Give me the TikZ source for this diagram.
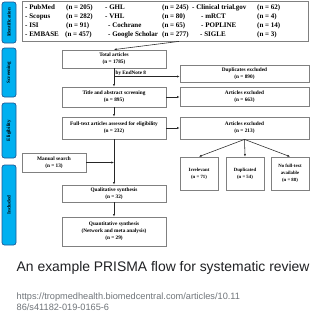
\documentclass[tikz,border=0pt]{standalone}
\usepackage{fontspec}
\setmainfont{Liberation Serif}
\newfontfamily\capfont{Liberation Sans}
\usetikzlibrary{arrows.meta}
\definecolor{boxgray}{RGB}{128,128,128}
\definecolor{sideblue}{RGB}{0,176,240}
\definecolor{sideedge}{RGB}{30,90,150}
\definecolor{capcol}{RGB}{32,33,36}
\definecolor{urlcol}{RGB}{112,117,122}
\begin{document}
\begin{tikzpicture}[x=1pt,y=-1pt,
  bx/.style={draw=boxgray, line width=0.8pt, fill=white, align=center, inner sep=0pt,
    font=\bfseries\fontsize{5.3}{7}\selectfont},
  sbx/.style={bx, font=\bfseries\fontsize{4.8}{7}\selectfont},
  side/.style={draw=sideedge, fill=sideblue, rounded corners=2.5pt, line width=0.7pt,
    rotate=90, inner sep=0pt, minimum height=14pt, font=\bfseries\fontsize{5}{5.5}\selectfont},
  arr/.style={draw=black!85, line width=0.55pt, -{Latex[length=2.6pt,width=2.2pt]}},
  db/.style={anchor=west, inner sep=0pt, font=\bfseries\fontsize{7}{8}\selectfont}]
\useasboundingbox (0,0) rectangle (322,316);
\fill[white] (0,0) rectangle (322,316);

% sidebar
\node[side, minimum width=41pt] (sid) at (9,22.5) {Identification};
\node[side, minimum width=49pt] (sscr) at (9,72.5) {Screening};
\node[side, minimum width=55pt] (selig) at (9,130.5) {Eligibility};
\node[side, minimum width=80pt] (sinc) at (9,205) {Included};

% database box
\node[bx, minimum width=286pt, minimum height=40pt] (top) at (165,21) {};
\node[db] (d11) at (25,7.5) {- PubMed};
\node[db] (d12) at (66,7.5) {(n = 205)};
\node[db] (d13) at (105,7.5) {- GHL};
\node[db] (d14) at (162,7.5) {(n = 245)};
\node[db] (d15) at (192,7.5) {- Clinical trial.gov};
\node[db] (d16) at (257,7.5) {(n = 62)};
\node[db] (d21) at (25,16.5) {- Scopus};
\node[db] (d22) at (66,16.5) {(n = 282)};
\node[db] (d23) at (105,16.5) {- VHL};
\node[db] (d24) at (162,16.5) {(n = 80)};
\node[db] (d25) at (201,16.5) {- mRCT};
\node[db] (d26) at (257,16.5) {(n = 4)};
\node[db] (d31) at (25,25.5) {- ISI};
\node[db] (d32) at (66,25.5) {(n = 91)};
\node[db] (d33) at (108,25.5) {- Cochrane};
\node[db] (d34) at (162,25.5) {(n = 65)};
\node[db] (d35) at (201,25.5) {- POPLINE};
\node[db] (d36) at (257,25.5) {(n = 14)};
\node[db] (d41) at (25,34.5) {- EMBASE};
\node[db] (d42) at (65,34.5) {(n = 457)};
\node[db] (d43) at (108,34.5) {- Google Scholar};
\node[db] (d44) at (162,34.5) {(n = 277)};
\node[db] (d45) at (200,34.5) {- SIGLE};
\node[db] (d46) at (257,34.5) {(n = 3)};

% main column
\node[bx, minimum width=104pt, minimum height=18pt] (total) at (114,59) {Total articles\\(n = 1785)};
\node[bx, minimum width=104pt, minimum height=20pt] (title) at (114,97) {Title and abstract screening\\(n = 895)};
\node[bx, minimum width=104pt, minimum height=22pt] (full) at (114,128) {Full-text articles assessed for eligibility\\(n = 232)};
\node[bx, minimum width=104pt, minimum height=17pt] (qual) at (114,193.5) {Qualitative synthesis\\(n = 32)};
\node[bx, minimum width=104pt, minimum height=29pt] (quant) at (114,231.5) {Quantitative synthesis\\(Network and meta analysis)\\(n = 29)};
\node[bx, minimum width=64pt, minimum height=19pt] (manual) at (54,162.5) {Manual search\\(n = 13)};

% right column
\node[bx, minimum width=129pt, minimum height=17pt] (dup) at (244.5,73.5) {Duplicates excluded\\(n = 890)};
\node[bx, minimum width=129pt, minimum height=19pt] (exc1) at (244.5,96.5) {Articles excluded\\(n = 663)};
\node[bx, minimum width=129pt, minimum height=22pt] (exc2) at (244.5,128) {Articles excluded\\(n = 213)};
\node[sbx, minimum width=38pt, minimum height=33pt] (irr) at (199,173.5) {Irrelevant\\(n = 71)};
\node[sbx, minimum width=38pt, minimum height=33pt] (dupd) at (245,173.5) {Duplicated\\(n = 54)};
\node[sbx, minimum width=38pt, minimum height=33pt] (nft) at (290,173.5) {No full-text\\available\\(n = 88)};

% connectors
\draw[arr] ([xshift=14pt]top.south) -- (total.north);
\draw[arr] (total.south) -- (title.north);
\coordinate (br) at (114,76.5);
\draw[arr] (br) -- (br -| dup.west);
\node[anchor=base west, inner sep=0pt, font=\bfseries\fontsize{5.2}{6}\selectfont] (endnote) at (115.5,74.5) {by EndNote 8};
\draw[arr] (title.east) -- (title.east -| exc1.west);
\draw[arr] (title.south) -- (full.north);
\draw[arr] (full.east) -- (full.east -| exc2.west);
\draw[arr] (full.south) -- (qual.north);
\draw[arr] (manual.east) -- (manual.east -| full.south);
\draw[arr] (qual.south) -- (quant.north);
\draw[arr] (exc2.south) -- (irr.north);
\draw[arr] (exc2.south) -- (dupd.north);
\draw[arr] (exc2.south) -- (nft.north);

% caption
\node[anchor=base west, inner sep=0pt, text=capcol, font=\capfont\fontsize{13.9}{16}\selectfont] (cap) at (16.5,271.5) {An example PRISMA flow for systematic review};
\node[anchor=base west, inner sep=0pt, text=urlcol, font=\capfont\fontsize{9.2}{11}\selectfont] (url1) at (16.5,299.5) {https://tropmedhealth.biomedcentral.com/articles/10.11};
\node[anchor=base west, inner sep=0pt, text=urlcol, font=\capfont\fontsize{9.2}{11}\selectfont] (url2) at (16.5,310.5) {86/s41182-019-0165-6};
\end{tikzpicture}
\end{document}
